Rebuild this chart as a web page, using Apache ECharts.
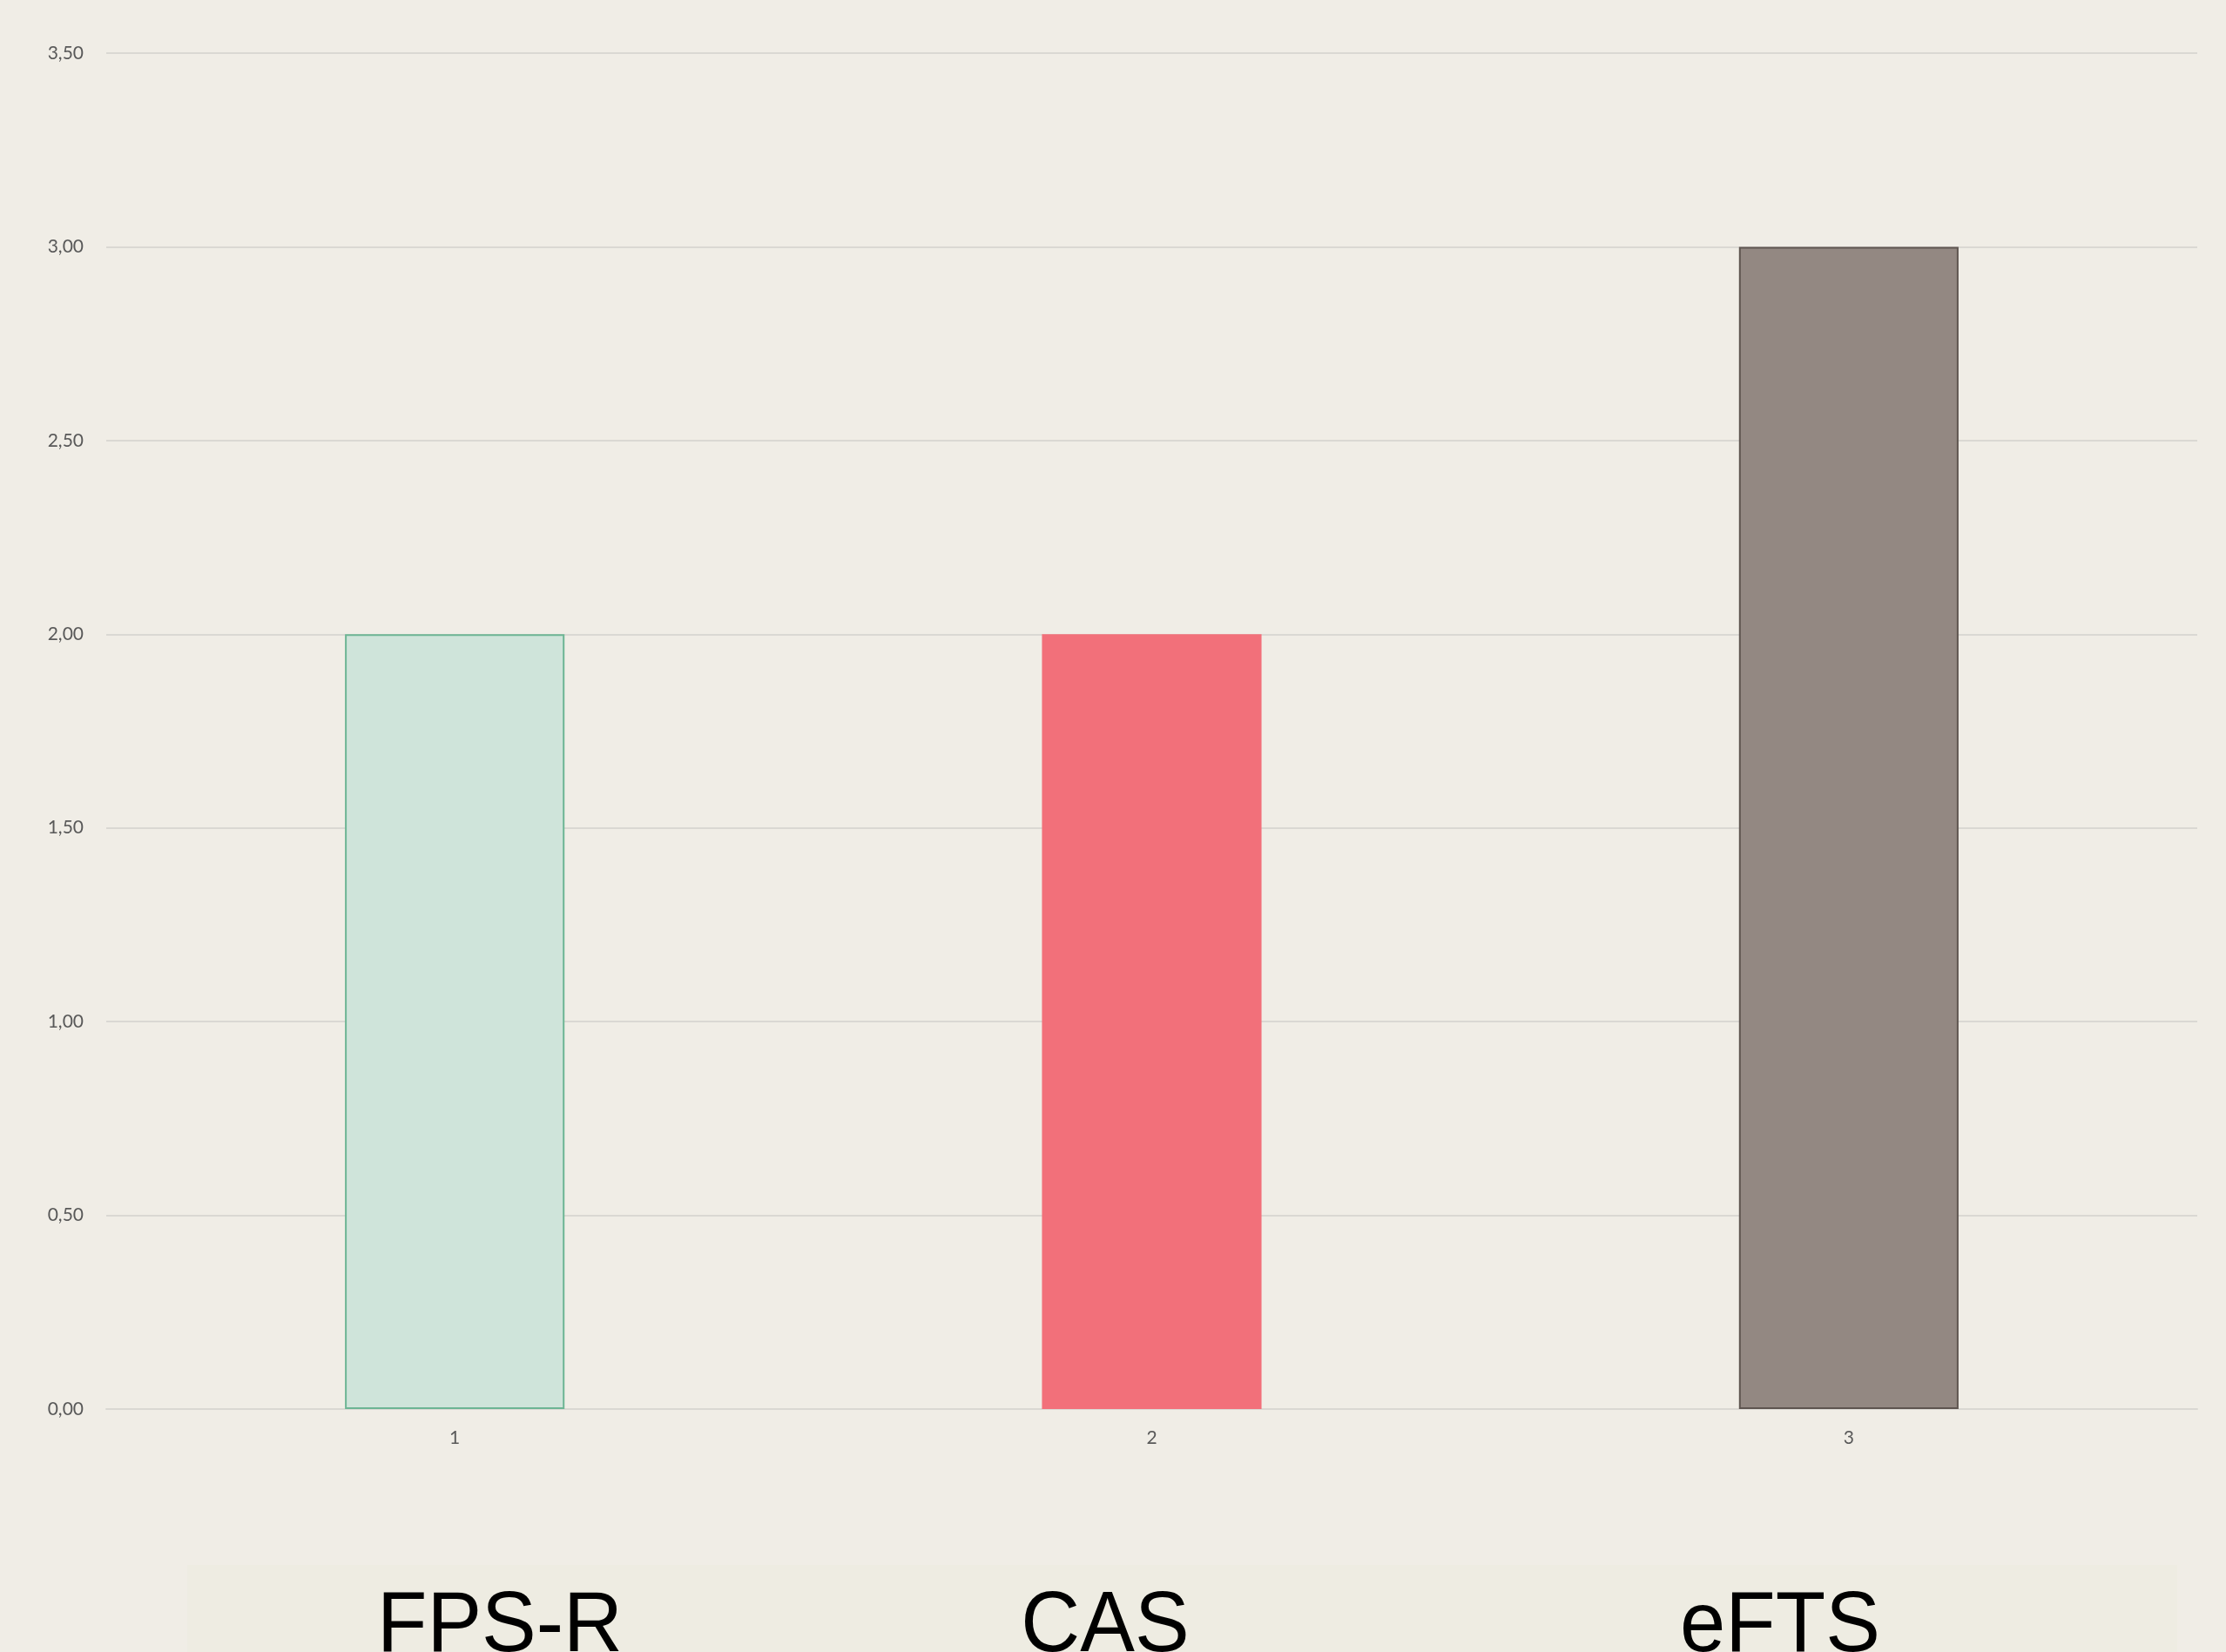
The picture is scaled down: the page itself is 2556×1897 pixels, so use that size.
<!DOCTYPE html>
<html>
<head>
<meta charset="utf-8">
<script src="https://cdn.jsdelivr.net/npm/echarts@6/dist/echarts.min.js"></script>
<style>
html,body{margin:0;padding:0;background:#F0EDE6;}
#c{width:2556px;height:1897px;}
</style>
</head>
<body>
<div id="c"></div>
<script>
const xTickLabels = ['1', '2', '3'];
const methodNames = ['FPS-R', 'CAS', 'eFTS'];
const values = [2.0, 2.0, 3.0];
const yTicks = { min: 0, max: 3.5, interval: 0.5 };

const barFills = ['#CFE4DA', '#F2707A', '#938882'];
const barBorders = ['#6DB594', '#F2707A', '#5E5550'];
const barBorderWidths = [2, 0, 2];

const chart = echarts.init(document.getElementById('c'), null, { renderer: 'canvas' });

const nameX = [574, 1269, 2044];

chart.setOption({
  backgroundColor: '#F0EDE6',
  animation: false,
  grid: { left: 122, right: 33, top: 61, bottom: 279, containLabel: false },
  xAxis: {
    type: 'category',
    data: xTickLabels,
    axisLine: { show: true, lineStyle: { color: '#DAD8D3', width: 2 } },
    axisTick: { show: false },
    axisLabel: { color: '#595959', fontFamily: 'Lato', fontSize: 21, margin: 23 },
    splitLine: { show: false }
  },
  yAxis: {
    type: 'value',
    min: yTicks.min,
    max: yTicks.max,
    interval: yTicks.interval,
    axisLine: { show: false },
    axisTick: { show: false },
    axisLabel: {
      color: '#595959', fontFamily: 'Lato', fontSize: 21, margin: 26,
      formatter: v => v.toFixed(2).replace('.', ',')
    },
    splitLine: { show: true, lineStyle: { color: '#DAD8D3', width: 2 } }
  },
  series: [{
    type: 'bar',
    barWidth: '31.5%',
    data: values.map((v, i) => ({
      value: v,
      itemStyle: { color: barFills[i], borderColor: barBorders[i], borderWidth: barBorderWidths[i] }
    }))
  }],
  graphic: [
    {
      type: 'rect', left: 215, top: 1797, z: -1,
      shape: { width: 2285, height: 100 },
      style: { fill: '#EEECE2' }
    }
  ].concat(methodNames.map((n, i) => ({
    type: 'text',
    x: nameX[i], y: 1869,
    scaleY: 1.04,
    style: {
      text: n, fill: '#000000', font: '94px "Liberation Sans", Arial, sans-serif',
      align: 'center', verticalAlign: 'middle'
    }
  })))
});
</script>
</body>
</html>
